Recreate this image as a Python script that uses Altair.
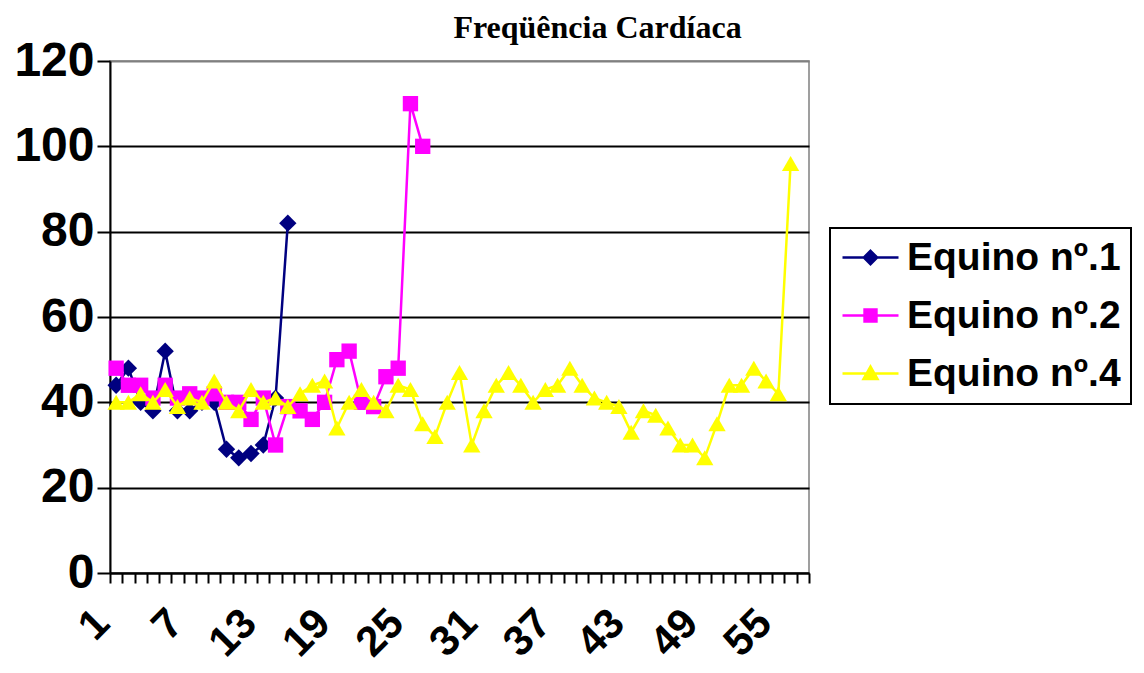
import altair as alt
import pandas as pd

# ---------------- data ----------------
series_names = ["Equino nº.1", "Equino nº.2", "Equino nº.4"]
equino1 = [44, 48, 40, 38, 52, 38, 38, 40, 40, 29, 27, 28, 30, 41, 82]
equino2 = [48, 44, 44, 41, 44, 41, 42, 41, 42, 40, 40, 36, 41, 30, 39, 38, 36,
           40, 50, 52, 40, 39, 46, 48, 110, 100]
equino4 = [40, 40, 42, 40, 43, 39, 41, 40, 45, 40,
           38, 43, 40, 41, 39, 42, 44, 45, 34, 40,
           43, 40, 38, 44, 43, 35, 32, 40, 47, 30,
           38, 44, 47, 44, 40, 43, 44, 48, 44, 41,
           40, 39, 33, 38, 37, 34, 30, 30, 27, 35,
           44, 44, 48, 45, 42, 96]
n_categories = 57
x_labels = ["1", "7", "13", "19", "25", "31", "37", "43", "49", "55"]
y_ticks = [0, 20, 40, 60, 80, 100, 120]
colors = ["#000080", "#FF00FF", "#FFFF00"]
marker_shapes = ["diamond", "square", "triangle-up"]
marker_sizes = [300, 235, 300]
legend_paths = [
    "M-4,0H4M0,-0.95L0.95,0L0,0.95L-0.95,0Z",
    "M-4,0H4M-0.85,-0.85H0.85V0.85H-0.85Z",
    "M-4,0H4M0,-1L1,0.8H-1Z",
]

rows = []
for name, vals in zip(series_names, [equino1, equino2, equino4]):
    for i, v in enumerate(vals):
        rows.append({"series": name, "idx": i + 1, "value": v})
df = pd.DataFrame(rows)

label_list = ",".join("'" + s + "'" for s in x_labels)
label_expr = (
    f"indexof([{label_list}], toString(datum.value + 0.5)) >= 0 ? "
    "toString(datum.value + 0.5) : ''"
)

x_axis = alt.Axis(
    values=[i + 0.5 for i in range(n_categories + 1)],
    labelExpr=label_expr,
    labelAngle=-45,
    labelAlign="right",
    labelBaseline="middle",
    labelPadding=33,
    labelOffset=-8,
    labelOverlap=False,
    labelFlush=False,
    labelBound=False,
    tickSize=10,
    tickWidth=2,
    tickColor="black",
    domainColor="black",
    domainWidth=2,
    grid=False,
    title=None,
    labelFont="Liberation Sans",
    labelFontWeight="bold",
    labelFontSize=42,
    labelColor="black",
)
y_axis = alt.Axis(
    values=y_ticks,
    tickSize=13,
    tickWidth=2,
    tickColor="black",
    domainColor="black",
    domainWidth=2,
    grid=True,
    gridColor={"condition": {"test": "datum.value >= 120", "value": "#808080"}, "value": "black"},
    gridWidth=2,
    title=None,
    labelPadding=3,
    labelFont="Liberation Sans",
    labelFontWeight="bold",
    labelFontSize=48,
    labelColor="black",
    labelBaseline="middle",
)

x_enc = alt.X("idx:Q", scale=alt.Scale(domain=[0.5, n_categories + 0.5], nice=False, zero=False), axis=x_axis)
y_enc = alt.Y("value:Q", scale=alt.Scale(domain=[0, 120], nice=False), axis=y_axis)

base = alt.Chart(df).encode(x=x_enc, y=y_enc)

layers = []
for name, col, shp, sz in zip(series_names, colors, marker_shapes, marker_sizes):
    sub = base.transform_filter(alt.datum.series == name)
    layers.append(sub.mark_line(color=col, strokeWidth=2.5))
    layers.append(sub.mark_point(color=col, shape=shp, size=sz, filled=True, opacity=1))

leg = alt.Legend(title=None, orient="none", legendX=720, legendY=167)
legend_layer = (
    alt.Chart(pd.DataFrame({"series": series_names}))
    .transform_filter("false")
    .mark_point(filled=True, strokeWidth=2.5, opacity=1)
    .encode(
        fill=alt.Fill("series:N", scale=alt.Scale(domain=series_names, range=colors), legend=leg),
        stroke=alt.Stroke("series:N", scale=alt.Scale(domain=series_names, range=colors), legend=leg),
        shape=alt.Shape("series:N", scale=alt.Scale(domain=series_names, range=legend_paths), legend=leg),
    )
)
layers.append(legend_layer)

chart = (
    alt.layer(*layers)
    .properties(
        width=699,
        height=512,
        autosize=alt.AutoSizeParams(type="none"),
        padding={"left": 102, "top": 53, "right": 327, "bottom": 92},
        title=alt.TitleParams(
            "Freqüência Cardíaca",
            font="Liberation Serif",
            fontSize=32,
            fontWeight="bold",
            color="black",
            anchor="middle",
            dx=138,
            offset=-33,
            baseline="alphabetic",
        ),
    )
    .configure(background="white")
    .configure_view(fill="#C0C0C0", stroke="#808080", strokeWidth=1.5)
    .configure_legend(
        strokeColor="black",
        strokeWidth=2,
        fillColor="white",
        padding=10,
        labelFont="Liberation Sans",
        labelFontWeight="bold",
        labelFontSize=39,
        labelColor="black",
        symbolSize=196,
        symbolStrokeWidth=2.5,
        symbolOpacity=1,
        symbolOffset=11,
        labelOffset=17,
        rowPadding=18,
        labelLimit=400,
    )
)

chart.save("out.html", embed_options={"renderer": "svg", "actions": False})
